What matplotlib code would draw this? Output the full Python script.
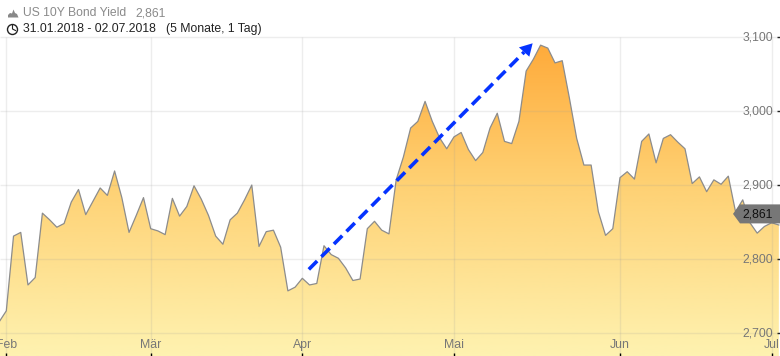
import numpy as np
import matplotlib
matplotlib.use("Agg")
import matplotlib.pyplot as plt
from matplotlib.colors import LinearSegmentedColormap
from matplotlib.patches import Polygon, PathPatch
from matplotlib.path import Path

plt.rcParams['font.family'] = ['Liberation Sans', 'DejaVu Sans']

# -----------------------------
# Data
# -----------------------------
yields = [
    2.715, 2.730, 2.831, 2.836, 2.765, 2.775, 2.862, 2.853, 2.843, 2.848,
    2.877, 2.894, 2.860, 2.878, 2.896, 2.886, 2.919, 2.883, 2.836, 2.859,
    2.883, 2.841, 2.838, 2.833, 2.882, 2.858, 2.871, 2.899, 2.881, 2.859,
    2.831, 2.820, 2.853, 2.862, 2.880, 2.900, 2.817, 2.837, 2.839, 2.816,
    2.757, 2.762, 2.774, 2.765, 2.767, 2.818, 2.806, 2.801, 2.788, 2.771,
    2.773, 2.841, 2.851, 2.839, 2.834, 2.907, 2.938, 2.977, 2.986, 3.013,
    2.986, 2.964, 2.949, 2.965, 2.971, 2.948, 2.933, 2.944, 2.977, 2.997,
    2.959, 2.956, 2.986, 3.054, 3.070, 3.089, 3.085, 3.065, 3.068, 3.017,
    2.963, 2.927, 2.927, 2.864, 2.832, 2.841, 2.910, 2.918, 2.908, 2.959,
    2.969, 2.930, 2.963, 2.968, 2.958, 2.949, 2.902, 2.911, 2.891, 2.907,
    2.901, 2.912, 2.864, 2.880, 2.849, 2.835, 2.844, 2.849, 2.846,
]
month_labels = ['Feb', 'Mär', 'Apr', 'Mai', 'Jun', 'Jul']
month_pos = [1, 21, 42, 63, 86, 107]
y_ticks = [2.7, 2.8, 2.9, 3.0, 3.1]
y_labels = ['2,700', '2,800', '2,900', '3,000', '3,100']
last_value = 2.861
arrow_x = [42.9, 72.73]
arrow_y = [2.786, 3.0797]
head_x = [73.9, 72.0, 73.44]
head_y = [3.0915, 3.086, 3.0734]

W, H = 780, 356
X_MIN, X_MAX = 0.127, 108.16
Y_MIN, Y_MAX = 2.669, 3.15


def px(x, y):
    # pixel position in the reference -> axes fraction
    return x / W, 1 - y / H


fig = plt.figure(figsize=(7.8, 3.56), dpi=100)
ax = fig.add_axes([0, 0, 1, 1])
ax.set_xlim(X_MIN, X_MAX)
ax.set_ylim(Y_MIN, Y_MAX)
ax.axis('off')

# -----------------------------
# Gradient area
# -----------------------------
x = np.arange(len(yields))
y = np.array(yields)
cmap = LinearSegmentedColormap.from_list(
    'area', [(0, '#FFA938'), (0.45, '#FED072'), (1, '#FEF2B0')])
grad = np.linspace(0, 1, 300).reshape(-1, 1)
im = ax.imshow(grad, cmap=cmap, aspect='auto', zorder=1, interpolation='bilinear',
               extent=(X_MIN, X_MAX, Y_MIN, 3.10))
verts = [(x[0], Y_MIN)] + list(zip(x, y)) + [(x[-1], Y_MIN), (x[0], Y_MIN)]
codes = [Path.MOVETO] + [Path.LINETO] * (len(verts) - 2) + [Path.CLOSEPOLY]
clip = PathPatch(Path(verts, codes), transform=ax.transData, fc='none', ec='none')
ax.add_patch(clip)
im.set_clip_path(clip)
ax.set_xlim(X_MIN, X_MAX)
ax.set_ylim(Y_MIN, Y_MAX)

# -----------------------------
# Grid, line, ticks
# -----------------------------
ax.hlines(y_ticks, X_MIN, X_MAX, color='#9a9a9a', alpha=0.17, lw=1, zorder=2)
ax.vlines(month_pos, Y_MIN, 3.10, color='#9a9a9a', alpha=0.17, lw=1, zorder=2)
ax.plot(x, y, color='#8c8c8c', lw=0.9, zorder=3)

for pos, label in zip(month_pos, month_labels):
    ax.text(pos, 2.684, label, ha='center', va='center', fontsize=8.8, color='#777777', zorder=5)
    ax.plot([pos, pos], [Y_MIN, 2.6725], color='black', lw=1, zorder=5, solid_capstyle='butt')

for val, label in zip(y_ticks, y_labels):
    ax.text(0.9915, val, label, transform=ax.get_yaxis_transform(), ha='right', va='center',
            fontsize=8.8, color='#777777', zorder=5)
    ax.plot([0.996, 1.0], [val, val], transform=ax.get_yaxis_transform(),
            color='#222222', lw=1, zorder=5, solid_capstyle='butt', clip_on=False)

# -----------------------------
# Last value tag
# -----------------------------
tag_y = H - (last_value - Y_MIN) / (Y_MAX - Y_MIN) * H
tag = Polygon([px(733, tag_y), px(740, tag_y - 9.5), px(780, tag_y - 9.5),
               px(780, tag_y + 9.5), px(740, tag_y + 9.5)],
              closed=True, transform=ax.transAxes, fc='#777777', ec='none', zorder=6)
ax.add_patch(tag)
ax.text(*px(758, tag_y + 0.5), '2,861', transform=ax.transAxes, ha='center', va='center',
        fontsize=8.8, color='#111111', zorder=7)

# -----------------------------
# Blue arrow
# -----------------------------
ax.plot(arrow_x, arrow_y, color='#0533FF', lw=2.6, linestyle=(0, (3.27, 1.67)),
        dash_capstyle='butt', zorder=8)
ax.add_patch(Polygon(list(zip(head_x, head_y)), closed=True, fc='#0533FF', ec='none', zorder=8))

# -----------------------------
# Header
# -----------------------------
ax.text(*px(23, 13), 'US 10Y Bond Yield', transform=ax.transAxes, fontsize=8.7, color='#8a8a8a',
        ha='left', va='center', zorder=9)
ax.text(*px(135, 13), '2,861', transform=ax.transAxes, fontsize=8.7, color='#8a8a8a',
        ha='left', va='center', zorder=9)
ax.text(*px(23, 29), '31.01.2018 - 02.07.2018', transform=ax.transAxes, fontsize=8.8, color='#222222',
        ha='left', va='center', zorder=9)
ax.text(*px(166.5, 29), '(5 Monate, 1 Tag)', transform=ax.transAxes, fontsize=8.8, color='#222222',
        ha='left', va='center', zorder=9)

icon = Polygon([px(8, 17.5), px(8, 15), px(10, 13), px(12, 13.5), px(13.5, 9.5), px(15, 13),
                px(17, 14), px(18.5, 17.5)], closed=True, transform=ax.transAxes,
               fc='#888888', ec='none', zorder=9)
ax.add_patch(icon)
ax.plot([12.5 / W], [1 - 28.5 / H], transform=ax.transAxes, marker='o', ms=7.2, mfc='white',
        mec='#222222', mew=1.0, zorder=9)
ax.plot([12.5 / W, 12.5 / W, 15.5 / W], [1 - 25.5 / H, 1 - 29 / H, 1 - 30.5 / H], transform=ax.transAxes,
        color='#222222', lw=0.8, zorder=10)

plt.savefig('out.png', dpi=100)
plt.close()
